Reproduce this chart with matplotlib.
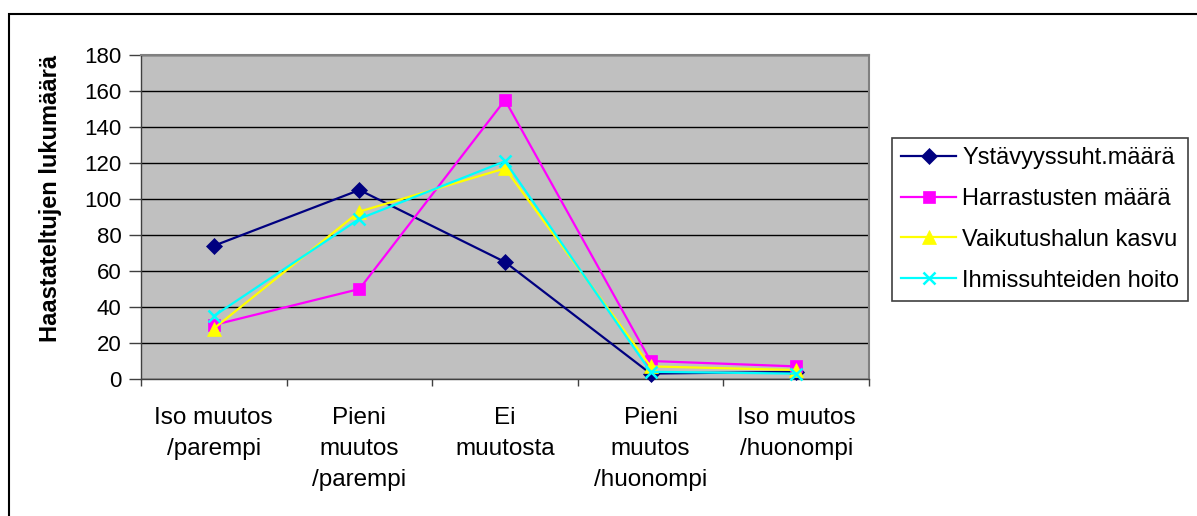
import matplotlib.pyplot as plt
from matplotlib.patches import Rectangle

plt.rcParams['font.family'] = ['Liberation Sans', 'DejaVu Sans']

kategoriat = ['Iso muutos\n/parempi', 'Pieni\nmuutos\n/parempi', 'Ei\nmuutosta',
              'Pieni\nmuutos\n/huonompi', 'Iso muutos\n/huonompi']
ystavyys = [74, 105, 65, 3, 4]
harrastus = [30, 50, 155, 10, 7]
vaikutus = [28, 93, 117, 7, 5]
ihmissuhteet = [35, 89, 121, 4, 3]
nimet = ['Ystävyyssuht.määrä', 'Harrastusten määrä', 'Vaikutushalun kasvu', 'Ihmissuhteiden hoito']
y_ticks = [0, 20, 40, 60, 80, 100, 120, 140, 160, 180]

W, H = 1197, 516
fig = plt.figure(figsize=(W / 100, H / 100), dpi=100)
ax = fig.add_axes([141 / W, 1 - 379 / H, (869 - 141) / W, (379 - 55) / H])
ax.set_facecolor('#C0C0C0')

x = list(range(len(kategoriat)))
tyylit = [
    (ystavyys, '#000080', 'D', 8.5),
    (harrastus, '#FF00FF', 's', 8),
    (vaikutus, '#FFFF00', '^', 10),
    (ihmissuhteet, '#00FFFF', 'x', 9),
]
for (arvot, vari, merkki, koko), nimi in zip(tyylit, nimet):
    ax.plot(x, arvot, color=vari, marker=merkki, markersize=koko, lw=1.6,
            markeredgewidth=1.8 if merkki == 'x' else 0.5, label=nimi, clip_on=False, zorder=3)

ax.set_xlim(-0.5, len(kategoriat) - 0.5)
ax.set_ylim(0, 180)
ax.set_yticks(y_ticks)
ax.yaxis.grid(True, color='black', lw=1)
ax.set_axisbelow(True)

ax.set_xticks(x)
ax.set_xticklabels(kategoriat, fontsize=17.5, linespacing=1.55)
ax.set_xticks([i - 0.5 for i in range(len(kategoriat) + 1)], minor=True)
ax.tick_params(axis='x', which='major', length=0, pad=20)
ax.tick_params(axis='x', which='minor', length=5, width=1, color='#404040')
ax.tick_params(axis='y', labelsize=16, length=8.5, width=1, color='#404040', pad=5.5)

for s in ['top', 'right']:
    ax.spines[s].set_color('#808080')
    ax.spines[s].set_linewidth(1.5)
for s in ['left', 'bottom']:
    ax.spines[s].set_color('#404040')
    ax.spines[s].set_linewidth(1)

fig.text(51 / W, 1 - 198 / H, 'Haastateltujen lukumäärä', rotation=90, fontsize=17,
         fontweight='bold', ha='center', va='center')

leg = fig.legend(loc='upper left', bbox_to_anchor=(892 / W, 1 - 138 / H), fontsize=17,
                 frameon=True, fancybox=False, edgecolor='#404040', framealpha=1,
                 handlelength=2.35, handletextpad=0.25, labelspacing=0.8, borderpad=0.38,
                 borderaxespad=0)
leg.get_frame().set_linewidth(1.2)

fig.add_artist(Rectangle((9 / W, -0.5), 2, 1 - 14 / H + 0.5, transform=fig.transFigure,
                         fill=False, ec='black', lw=1.5))

fig.savefig('out.png', dpi=100)
